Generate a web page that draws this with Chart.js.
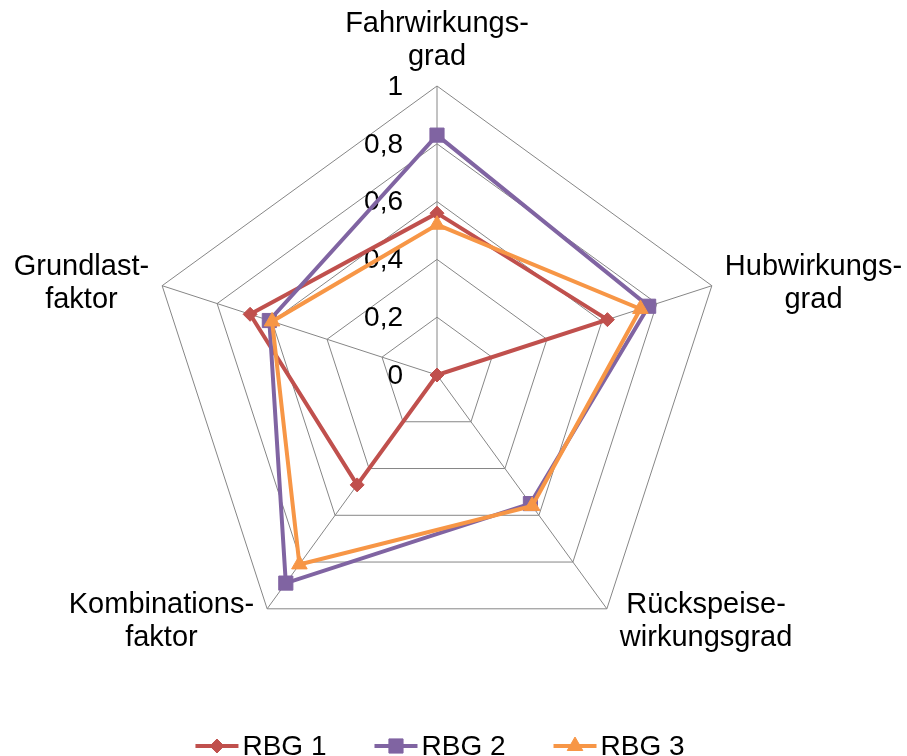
<!DOCTYPE html>
<html>
<head>
<meta charset="utf-8">
<script src="https://cdn.jsdelivr.net/npm/chart.js@4"></script>
<style>
  html, body { margin: 0; padding: 0; background: #fff; }
  #wrap { width: 907px; height: 756px; }
</style>
</head>
<body>
<div id="wrap"><canvas id="radar"></canvas></div>
<script>
// Achsen (Kategorien), Skala und Werte der drei Regalbediengeräte
const categories = [
    ['Fahrwirkungs-', 'grad'],
    ['Hubwirkungs-', 'grad'],
    ['Rückspeise-', 'wirkungsgrad'],
    ['Kombinations-', 'faktor'],
    ['Grundlast-', 'faktor']
];
const tickValues = [0, 0.2, 0.4, 0.6, 0.8, 1];
const tickLabels = ['0', '0,2', '0,4', '0,6', '0,8', '1'];
const seriesNames = ['RBG 1', 'RBG 2', 'RBG 3'];
const rbg1 = [0.56, 0.62, 0, 0.47, 0.68];
const rbg2 = [0.83, 0.77, 0.55, 0.89, 0.61];
const rbg3 = [0.52, 0.74, 0.56, 0.81, 0.60];

const FONT = '"Liberation Sans", Arial, sans-serif';

// --- Achsenbeschriftung, Kategorien und Legende selbst zeichnen ---
const textPlugin = {
    id: 'radarText',
    beforeDatasetsDraw(chart) {
        const r = chart.scales.r;
        const ctx = chart.ctx;
        ctx.save();
        ctx.font = '28px ' + FONT;
        ctx.fillStyle = '#000';
        ctx.textAlign = 'right';
        ctx.textBaseline = 'middle';
        tickValues.forEach((v, i) => {
            const p = r.getPointPosition(0, r.getDistanceFromCenterForValue(v));
            ctx.fillText(tickLabels[i], p.x - 34, p.y + 1);
        });
        ctx.restore();
    },
    afterDraw(chart) {
        const r = chart.scales.r;
        const ctx = chart.ctx;
        ctx.save();

        // Kategorien an den Ecken
        ctx.font = '29px ' + FONT;
        ctx.fillStyle = '#000';
        ctx.textAlign = 'center';
        ctx.textBaseline = 'alphabetic';
        const lineH = 33, gap = 13;
        categories.forEach((lines, i) => {
            const p = r.getPointPosition(i, r.drawingArea);
            const w = Math.max(...lines.map(t => ctx.measureText(t).width));
            const dx = p.x - r.xCenter;
            let cx, y0;
            if (Math.abs(dx) < 1) {
                cx = p.x;
                y0 = p.y - 21 - lineH * (lines.length - 1);
            } else {
                cx = dx > 0 ? p.x + gap + w / 2 : p.x - gap - w / 2;
                y0 = p.y < r.yCenter ? p.y - 11 : p.y + 4;
            }
            lines.forEach((t, k) => ctx.fillText(t, cx, y0 + k * lineH));
        });

        // Legende unten: Linie mit Marker + Name
        ctx.font = '28px ' + FONT;
        ctx.textAlign = 'left';
        const lineLen = 43, textGap = 4, itemGap = 48, y = 746;
        const sets = chart.data.datasets;
        const widths = sets.map(ds => ctx.measureText(ds.label).width);
        const total = widths.reduce((s, w) => s + lineLen + textGap + w, 0) + itemGap * (sets.length - 1);
        let x = r.xCenter + 3 - total / 2;
        sets.forEach((ds, i) => {
            ctx.strokeStyle = ds.borderColor;
            ctx.lineWidth = ds.borderWidth;
            ctx.beginPath();
            ctx.moveTo(x, y);
            ctx.lineTo(x + lineLen, y);
            ctx.stroke();
            ctx.fillStyle = ds.pointBackgroundColor;
            ctx.lineWidth = 1;
            Chart.helpers.drawPoint(ctx, { pointStyle: ds.pointStyle, radius: ds.pointRadius, borderWidth: 1, rotation: 0 }, x + lineLen / 2, y);
            ctx.fillStyle = '#000';
            ctx.fillText(ds.label, x + lineLen + textGap, y + 9);
            x += lineLen + textGap + widths[i] + itemGap;
        });
        ctx.restore();
    }
};

const colors = ['#C0504D', '#8064A2', '#F79646'];
const styles = ['rectRot', 'rect', 'triangle'];
const radii = [7, 10, 9];

const datasets = [rbg1, rbg2, rbg3].map((values, i) => ({
    label: seriesNames[i],
    data: values,
    borderColor: colors[i],
    backgroundColor: colors[i],
    pointBackgroundColor: colors[i],
    pointBorderColor: colors[i],
    borderWidth: 4,
    pointBorderWidth: 1,
    pointStyle: styles[i],
    pointRadius: radii[i],
    pointHoverRadius: radii[i],
    fill: false,
    tension: 0,
    order: 2 - i
}));

new Chart(document.getElementById('radar'), {
    type: 'radar',
    data: { labels: categories.map(l => l.join('')), datasets: datasets },
    options: {
        responsive: true,
        maintainAspectRatio: false,
        animation: false,
        devicePixelRatio: 1,
        layout: { padding: { left: 148, right: 180, top: 86, bottom: 91 } },
        plugins: { legend: { display: false }, tooltip: { enabled: false } },
        scales: {
            r: {
                min: 0,
                max: 1,
                ticks: { stepSize: 0.2, display: false },
                pointLabels: { display: false },
                grid: { color: '#868686', lineWidth: 1 },
                angleLines: { color: '#868686', lineWidth: 1 }
            }
        }
    },
    plugins: [textPlugin]
});
</script>
</body>
</html>
